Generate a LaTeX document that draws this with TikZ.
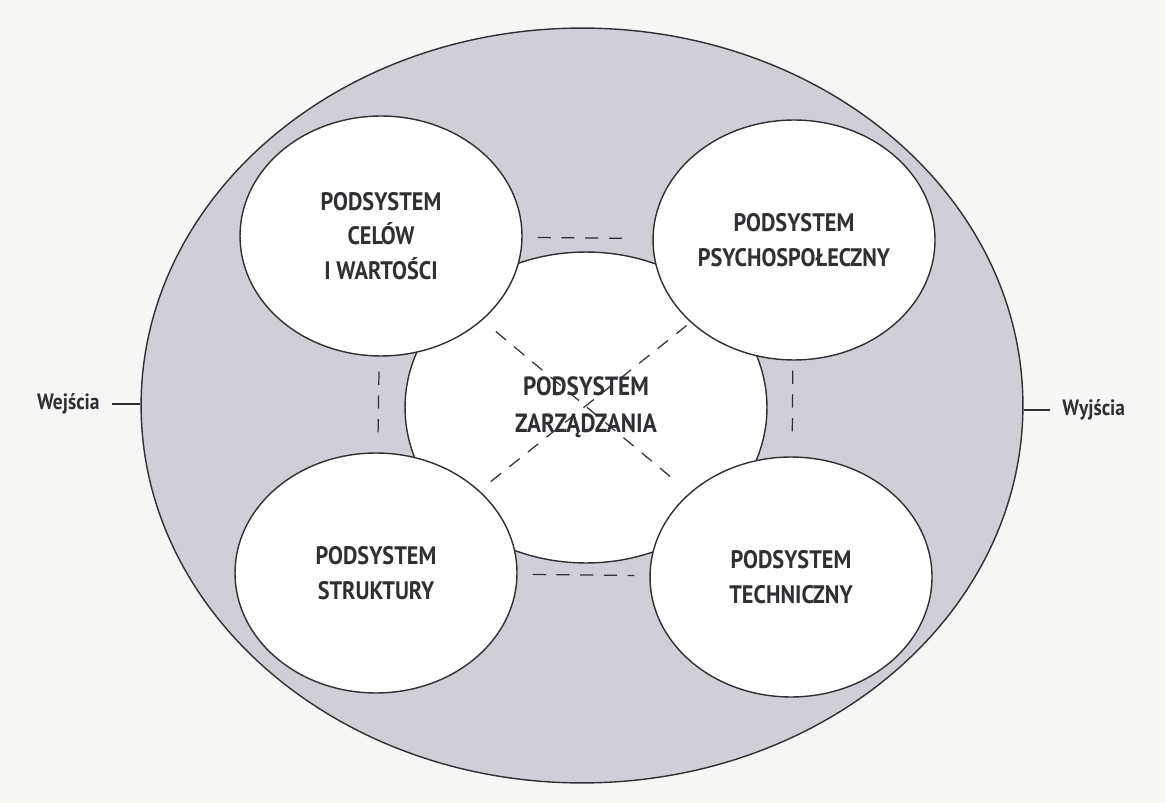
\documentclass[tikz,border=0pt]{standalone}
\usepackage{fontspec}
\setmainfont{PT Sans}
\newfontfamily\labelfont{PT Sans}[FakeStretch=0.88]
\usepackage{tikz}
\usetikzlibrary{shapes}
\usepackage{xcolor}
\definecolor{pagewhite}{RGB}{246,246,245}
\definecolor{ringgray}{RGB}{208,207,216}
\definecolor{inkgray}{RGB}{48,48,52}
\tikzstyle{subsystem} = [ellipse, minimum width=5.64cm, minimum height=4.8cm, inner sep=0pt, align=center, draw=inkgray, fill=white, line width=0.8pt, text=inkgray, font=\labelfont\bfseries\fontsize{14.4}{19.6}\selectfont]
\tikzstyle{link} = [draw=inkgray, line width=0.7pt, dash pattern=on 7.5pt off 6pt]
\tikzstyle{port} = [inner sep=0pt, inner xsep=0.24cm, text=inkgray, font=\labelfont\bfseries\fontsize{12.6}{14}\selectfont]

\begin{document}
\begin{tikzpicture}[x=0.02cm, y=-0.02cm]
\useasboundingbox[fill=pagewhite] (0,0) rectangle (1165,803);
% environment ring and management core
\node (outer) [ellipse, minimum width=17.64cm, minimum height=15.1cm, inner sep=0pt, draw=inkgray, fill=ringgray, line width=0.8pt] at (582,405.5) {};
\node (mgmt) [subsystem, minimum width=7.24cm, minimum height=6.22cm, font=\labelfont\bfseries\fontsize{15}{20.8}\selectfont] at (586,407.5) {PODSYSTEM\\ZARZĄDZANIA};

\node (goals) [subsystem] at (381,236) {PODSYSTEM\\CELÓW\\I WARTOŚCI};
\node (psycho) [subsystem] at (794,240) {PODSYSTEM\\PSYCHOSPOŁECZNY};
\node (struct) [subsystem] at (376,573) {PODSYSTEM\\STRUKTURY};
\node (tech) [subsystem] at (791,577) {PODSYSTEM\\TECHNICZNY};

\draw[link, shorten <=0.3cm, shorten >=0.6cm] (goals) -- (psycho);
\draw[link, shorten <=0.3cm, shorten >=0.3cm] (struct) -- (tech);
\draw[link, shorten <=0.3cm, shorten >=0.22cm] (goals) -- (struct);
\draw[link, shorten <=0.2cm, shorten >=0.32cm] (psycho) -- (tech);
\draw[link, shorten <=0.35cm, shorten >=0.3cm] (goals) -- (tech);
\draw[link, shorten <=0.1cm, shorten >=0.25cm] (psycho) -- (struct);

\node (inputs) [port, anchor=east] at (112,404) {Wejścia};
\node (outputs) [port, anchor=west] at (1050,410) {Wyjścia};
\draw[draw=inkgray, line width=0.8pt] (inputs) -- (inputs -| outer.west);
\draw[draw=inkgray, line width=0.8pt] (outputs) -- (outputs -| outer.east);
\end{tikzpicture}
\end{document}
